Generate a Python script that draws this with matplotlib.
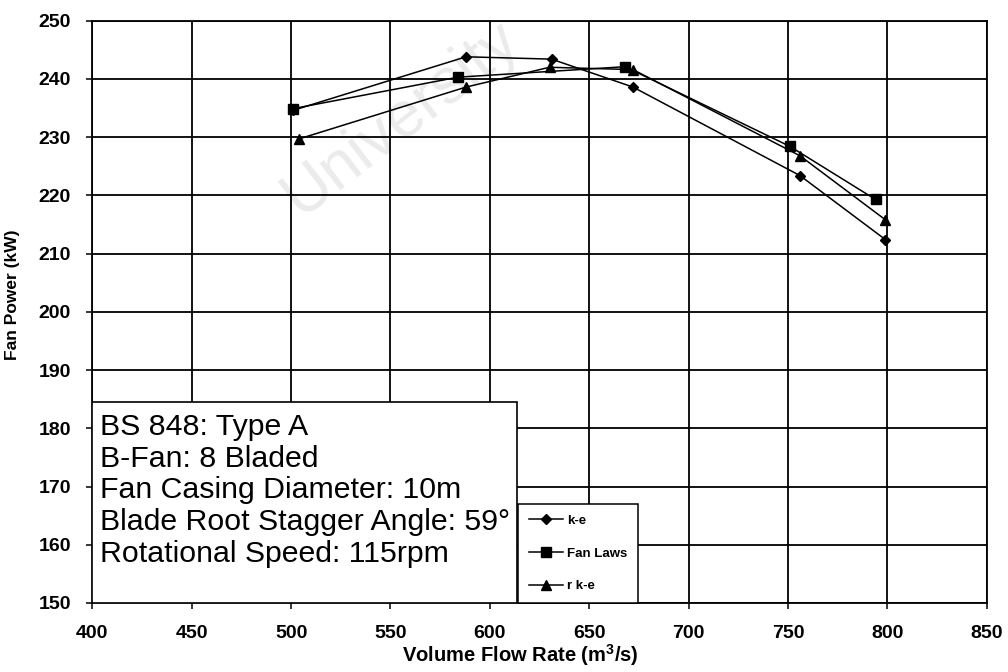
"""Fan power vs volume flow rate for the BS 848 Type A B-Fan."""

import matplotlib.pyplot as plt
from matplotlib.patches import Rectangle


# k-e model
ke_flow = [501, 588, 631, 672, 756, 799]
ke_power = [234.6, 243.8, 243.4, 238.6, 223.4, 212.4]

# fan laws
fan_flow = [501, 584, 668, 751, 794]
fan_power = [234.9, 240.3, 242.1, 228.4, 219.3]

# realizable k-e model
rke_flow = [504, 588, 630, 672, 756, 799]
rke_power = [229.7, 238.6, 242.0, 241.6, 226.8, 215.8]

info_lines = [
    "BS 848: Type A",
    "B-Fan: 8 Bladed",
    "Fan Casing Diameter: 10m",
    "Blade Root Stagger Angle: 59\u00b0",
    "Rotational Speed: 115rpm",
]


def main() -> None:
    plt.rcParams.update({"font.family": ["Liberation Sans", "DejaVu Sans"], "mathtext.fontset": "custom",
                         "mathtext.rm": "Liberation Sans", "mathtext.bf": "Liberation Sans:bold"})
    fig = plt.figure(figsize=(10.08, 6.72), dpi=100)
    ax = fig.add_axes([0.0916, 0.1027, 0.8874, 0.8665])

    line_kw = {"color": "black", "linewidth": 1.1, "zorder": 4}
    ax.plot(ke_flow, ke_power, marker="D", markersize=5.5, label="k-e", **line_kw)
    ax.plot(fan_flow, fan_power, marker="s", markersize=6.5, label="Fan Laws", **line_kw)
    ax.plot(rke_flow, rke_power, marker="^", markersize=7, label="r k-e", **line_kw)

    ax.set_xlim(400, 850)
    ax.set_ylim(150, 250)
    ax.set_xticks(range(400, 851, 50))
    ax.set_yticks(range(150, 251, 10))
    ax.grid(True, color="black", linewidth=1.3, zorder=1)
    ax.set_axisbelow(True)
    for spine in ax.spines.values():
        spine.set_linewidth(1.3)
    ax.tick_params(direction="out", length=4.5, width=1.1, labelsize=14)
    ax.tick_params(axis="y", pad=11)
    ax.tick_params(axis="x", pad=11)
    for label in ax.get_xticklabels() + ax.get_yticklabels():
        label.set_fontweight("bold")

    ax.set_xlabel(r"Volume Flow Rate (m$^{\mathbf{3}}$/s)", fontsize=14.5, fontweight="bold")
    ax.xaxis.set_label_coords(0.478, -0.068)
    ax.set_ylabel("Fan Power (kW)", fontsize=12.5, fontweight="bold")
    ax.yaxis.set_label_coords(-0.081, 0.53)

    # faint watermark from the scanned source
    ax.text(0.232, 0.662, "University", transform=ax.transAxes, rotation=37.6,
            rotation_mode="anchor", fontsize=46, color="#ebebeb", ha="left", va="baseline",
            zorder=0.5)

    # parameter box in the lower left corner
    ax.add_patch(Rectangle((0, 0), 0.475, 0.346, transform=ax.transAxes, facecolor="white",
                           edgecolor="black", linewidth=1.2, zorder=5))
    for i, text in enumerate(info_lines):
        ax.text(0.0086, 0.2885 - i * 0.0545, text, transform=ax.transAxes, fontsize=21.8,
                ha="left", va="baseline", zorder=6)

    legend = ax.legend(loc="lower left", bbox_to_anchor=(0.476, 0.0), borderaxespad=0,
                       frameon=True, fancybox=False, framealpha=1, edgecolor="black",
                       borderpad=0.8, labelspacing=1.55, handlelength=2.6, handletextpad=0.3,
                       prop={"weight": "bold", "size": 9.5})
    legend.get_frame().set_linewidth(1.1)
    legend.set_zorder(7)

    fig.savefig("out.png", dpi=100, facecolor="white")
    plt.close(fig)


if __name__ == "__main__":
    main()
